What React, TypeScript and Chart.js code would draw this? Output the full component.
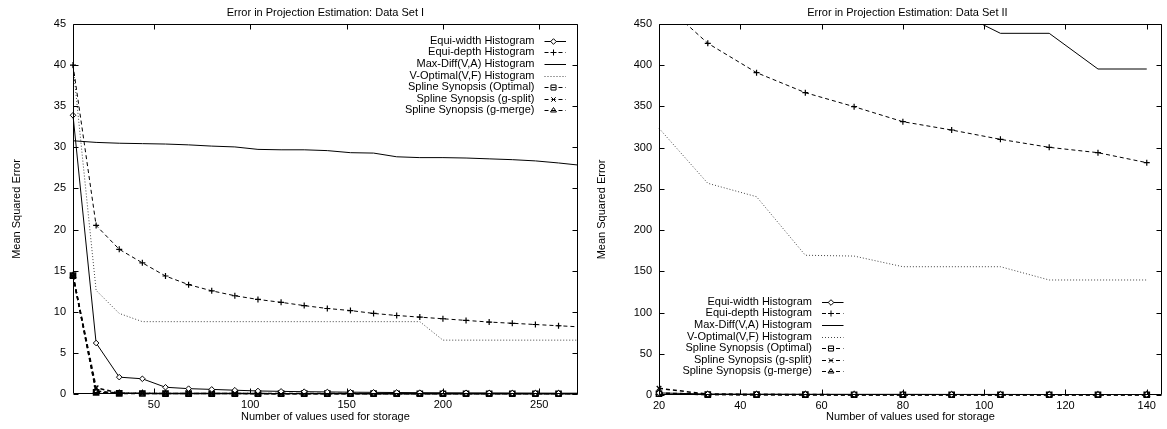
import React, { useEffect, useRef } from "react";
import { Chart, registerables } from "chart.js";

Chart.register(...registerables);

const FONT = "'Liberation Sans', Arial, Helvetica, sans-serif";

// ---------------- data ----------------
const SERIES_NAMES = [
  "Equi-width Histogram",
  "Equi-depth Histogram",
  "Max-Diff(V,A) Histogram",
  "V-Optimal(V,F) Histogram",
  "Spline Synopsis (Optimal)",
  "Spline Synopsis (g-split)",
  "Spline Synopsis (g-merge)",
];

const TITLE_1 = "Error in Projection Estimation: Data Set I";
const TITLE_2 = "Error in Projection Estimation: Data Set II";
const X_TITLE = "Number of values used for storage";
const Y_TITLE = "Mean Squared Error";

// Data Set I
const X1 = [8, 20, 32, 44, 56, 68, 80, 92, 104, 116, 128, 140, 152, 164, 176, 188, 200, 212, 224, 236, 248, 260, 272];
const EQUI_WIDTH_1 = [33.9, 6.2, 2.05, 1.85, 0.82, 0.65, 0.56, 0.46, 0.37, 0.32, 0.28, 0.25, 0.22, 0.2, 0.18, 0.16, 0.15, 0.14, 0.13, 0.12, 0.11, 0.1, 0.1];
const EQUI_DEPTH_1 = [40, 20.5, 17.6, 15.95, 14.35, 13.3, 12.55, 11.95, 11.5, 11.15, 10.75, 10.4, 10.15, 9.8, 9.55, 9.35, 9.15, 8.95, 8.75, 8.6, 8.45, 8.3, 8.15];
const MAX_DIFF_1 = [30.8, 30.6, 30.5, 30.45, 30.4, 30.3, 30.15, 30.05, 29.75, 29.7, 29.7, 29.6, 29.35, 29.3, 28.85, 28.75, 28.75, 28.7, 28.6, 28.5, 28.35, 28.1, 27.8];
const V_OPT_1 = [40, 12.6, 9.8, 8.8, 8.8, 8.8, 8.8, 8.8, 8.8, 8.8, 8.8, 8.8, 8.8, 8.8, 8.8, 8.8, 6.55, 6.55, 6.55, 6.55, 6.55, 6.55, 6.55];
const SPLINE_OPT_1 = [14.4, 0.2, 0.08, 0.06, 0.05, 0.05, 0.05, 0.05, 0.04, 0.04, 0.04, 0.04, 0.04, 0.04, 0.03, 0.03, 0.03, 0.03, 0.03, 0.03, 0.03, 0.03, 0.03];
const G_SPLIT_1 = [14.4, 0.75, 0.12, 0.08, 0.07, 0.06, 0.06, 0.05, 0.05, 0.05, 0.05, 0.05, 0.05, 0.04, 0.04, 0.04, 0.04, 0.04, 0.04, 0.04, 0.04, 0.04, 0.04];
const G_MERGE_1 = [14.4, 0.35, 0.1, 0.07, 0.06, 0.05, 0.05, 0.05, 0.05, 0.04, 0.04, 0.04, 0.04, 0.04, 0.04, 0.03, 0.03, 0.03, 0.03, 0.03, 0.03, 0.03, 0.03];
const X_TICKS_1 = [50, 100, 150, 200, 250];
const Y_TICKS_1 = [0, 5, 10, 15, 20, 25, 30, 35, 40, 45];

// Data Set II
const X2 = [20, 32, 44, 56, 68, 80, 92, 104, 116, 128, 140];
const EQUI_WIDTH_2 = [2.5, 1.2, 1.0, 0.9, 0.8, 0.8, 0.7, 0.7, 0.6, 0.6, 0.6];
const EQUI_DEPTH_2 = [480, 426.6, 391, 366.7, 349.7, 331.5, 321.4, 310.1, 300.4, 293.9, 281.8];
const MAX_DIFF_2 = [780, 680, 600, 545, 505, 485, 468, 438.7, 438.7, 395.4, 395.4];
const V_OPT_2 = [323.5, 256.8, 240.5, 169.5, 168.5, 155.6, 155.6, 155.6, 139.5, 139.5, 139.5];
const SPLINE_OPT_2 = [1.5, 0.5, 0.4, 0.4, 0.3, 0.3, 0.3, 0.3, 0.3, 0.3, 0.3];
const G_SPLIT_2 = [8.1, 1.0, 0.6, 0.5, 0.4, 0.4, 0.4, 0.3, 0.3, 0.3, 0.3];
const G_MERGE_2 = [2.5, 0.6, 0.5, 0.4, 0.4, 0.3, 0.3, 0.3, 0.3, 0.3, 0.3];
const X_TICKS_2 = [20, 40, 60, 80, 100, 120, 140];
const Y_TICKS_2 = [0, 50, 100, 150, 200, 250, 300, 350, 400, 450];

// ---------------- styles ----------------
type St = { dash: number[]; point: string | null; r: number; fill: string; width: number; color: string; pw: number };
const STYLE: St[] = [
  { dash: [], point: "rectRot", r: 2.8, fill: "#ffffff", width: 1, color: "#000", pw: 1 },
  { dash: [4, 3], point: "cross", r: 3, fill: "rgba(0,0,0,0)", width: 1, color: "#000", pw: 1.2 },
  { dash: [], point: null, r: 0, fill: "rgba(0,0,0,0)", width: 1, color: "#000", pw: 1 },
  { dash: [1, 2], point: null, r: 0, fill: "rgba(0,0,0,0)", width: 1, color: "#444", pw: 1 },
  { dash: [4, 3], point: "rect", r: 3.6, fill: "rgba(0,0,0,0)", width: 1.5, color: "#000", pw: 1.6 },
  { dash: [4, 3], point: "crossRot", r: 3.2, fill: "rgba(0,0,0,0)", width: 1.5, color: "#000", pw: 1.3 },
  { dash: [4, 3], point: "triangle", r: 3, fill: "rgba(0,0,0,0)", width: 1.5, color: "#000", pw: 1.3 },
];

type Spec = {
  title: string;
  titleDx: number;
  xs: number[];
  series: number[][];
  xMin: number;
  xMax: number;
  yMax: number;
  xTicks: number[];
  yTicks: number[];
  width: number;
  yAxisWidth: number;
  xAxisHeight: number;
  padRight: number;
  yTitlePad: number;
  legend: "topRight" | "bottomLeft";
};

const SPEC_1: Spec = {
  title: TITLE_1,
  titleDx: 0,
  xs: X1,
  series: [EQUI_WIDTH_1, EQUI_DEPTH_1, MAX_DIFF_1, V_OPT_1, SPLINE_OPT_1, G_SPLIT_1, G_MERGE_1],
  xMin: 8,
  xMax: 270,
  yMax: 45,
  xTicks: X_TICKS_1,
  yTicks: Y_TICKS_1,
  width: 583,
  yAxisWidth: 73,
  xAxisHeight: 35,
  padRight: 3,
  yTitlePad: 10,
  legend: "topRight",
};

const SPEC_2: Spec = {
  title: TITLE_2,
  titleDx: -3,
  xs: X2,
  series: [EQUI_WIDTH_2, EQUI_DEPTH_2, MAX_DIFF_2, V_OPT_2, SPLINE_OPT_2, G_SPLIT_2, G_MERGE_2],
  xMin: 20,
  xMax: 143.7,
  yMax: 450,
  xTicks: X_TICKS_2,
  yTicks: Y_TICKS_2,
  width: 584,
  yAxisWidth: 76,
  xAxisHeight: 34,
  padRight: 2,
  yTitlePad: 12,
  legend: "bottomLeft",
};

const HEIGHT = 429;

function drawMarker(ctx: CanvasRenderingContext2D, st: St, x: number, y: number) {
  if (!st.point) return;
  const r = st.r;
  ctx.save();
  ctx.setLineDash([]);
  ctx.lineWidth = 1;
  ctx.strokeStyle = st.color;
  ctx.fillStyle = st.fill;
  ctx.beginPath();
  if (st.point === "rectRot") {
    ctx.moveTo(x, y - r);
    ctx.lineTo(x + r, y);
    ctx.lineTo(x, y + r);
    ctx.lineTo(x - r, y);
    ctx.closePath();
    ctx.fill();
  } else if (st.point === "cross") {
    ctx.moveTo(x - r, y);
    ctx.lineTo(x + r, y);
    ctx.moveTo(x, y - r);
    ctx.lineTo(x, y + r);
  } else if (st.point === "crossRot") {
    const d = r * Math.SQRT1_2;
    ctx.moveTo(x - d, y - d);
    ctx.lineTo(x + d, y + d);
    ctx.moveTo(x + d, y - d);
    ctx.lineTo(x - d, y + d);
  } else if (st.point === "rect") {
    const s = r * Math.SQRT1_2;
    ctx.rect(x - s, y - s, 2 * s, 2 * s);
  } else if (st.point === "triangle") {
    const h = r * 1.5;
    ctx.moveTo(x - r, y + h / 3);
    ctx.lineTo(x + r, y + h / 3);
    ctx.lineTo(x, y - (2 * h) / 3);
    ctx.closePath();
  }
  ctx.stroke();
  ctx.restore();
}

function makePlugin(spec: Spec) {
  return {
    id: "gnuplotDecor",
    afterDraw(chart: any) {
      const { ctx, chartArea: a, scales } = chart;
      const xs = scales.x;
      const ys = scales.y;
      const L = Math.round(a.left) + 0.5;
      const R = Math.round(a.right) - 0.5;
      const T = Math.round(a.top) + 0.5;
      const B = Math.round(a.bottom) - 0.5;
      ctx.save();
      ctx.setLineDash([]);
      ctx.strokeStyle = "#000";
      ctx.lineWidth = 1;
      // inward ticks on all four sides
      ctx.beginPath();
      for (const v of spec.xTicks) {
        const px = Math.round(xs.getPixelForValue(v)) + 0.5;
        ctx.moveTo(px, B);
        ctx.lineTo(px, B - 5);
        ctx.moveTo(px, T);
        ctx.lineTo(px, T + 5);
      }
      for (const v of spec.yTicks) {
        const py = Math.round(ys.getPixelForValue(v)) + 0.5;
        ctx.moveTo(L, py);
        ctx.lineTo(L + 5, py);
        ctx.moveTo(R, py);
        ctx.lineTo(R - 5, py);
      }
      ctx.stroke();
      // frame
      ctx.beginPath();
      ctx.rect(L, T, R - L, B - T);
      ctx.stroke();

      // title
      ctx.fillStyle = "#000";
      ctx.font = `11px ${FONT}`;
      ctx.textAlign = "center";
      ctx.textBaseline = "middle";
      ctx.fillText(spec.title, (a.left + a.right) / 2 + spec.titleDx, 13);

      // legend
      let textRight: number, y0: number;
      const step = 11.6;
      if (spec.legend === "topRight") {
        textRight = a.right - 43.3;
        y0 = a.top + 16.7;
      } else {
        textRight = a.left + 153;
        y0 = a.bottom - 93.3;
      }
      const s1 = textRight + 10;
      const s2 = textRight + 31.5;
      const mx = textRight + 19;
      ctx.textAlign = "right";
      SERIES_NAMES.forEach((name, i) => {
        const st = STYLE[i];
        const y = y0 + i * step;
        ctx.fillStyle = "#000";
        ctx.fillText(name, textRight, y);
        ctx.save();
        ctx.strokeStyle = st.color;
        ctx.lineWidth = 1;
        ctx.setLineDash(st.dash);
        ctx.beginPath();
        ctx.moveTo(s1, Math.round(y) + 0.5);
        ctx.lineTo(s2, Math.round(y) + 0.5);
        ctx.stroke();
        ctx.restore();
        drawMarker(ctx, st, mx, Math.round(y) + 0.5);
      });
      ctx.restore();
    },
  };
}

function GnuChart({ spec }: { spec: Spec }) {
  const ref = useRef<HTMLCanvasElement | null>(null);
  useEffect(() => {
    if (!ref.current) return;
    const font = { family: FONT, size: 11 };
    const chart = new Chart(ref.current, {
      type: "line",
      data: {
        datasets: spec.series.map((vals, i) => {
          const st = STYLE[i];
          return {
            label: SERIES_NAMES[i],
            data: spec.xs.map((x, j) => ({ x, y: vals[j] })),
            borderColor: st.color,
            backgroundColor: st.fill,
            borderWidth: st.width,
            borderDash: st.dash,
            pointStyle: (st.point || "circle") as any,
            pointRadius: st.point ? st.r : 0,
            pointHoverRadius: st.point ? st.r : 0,
            pointBorderColor: st.color,
            pointBackgroundColor: st.fill,
            pointBorderWidth: st.pw,
            tension: 0,
            fill: false,
            clip: { left: 6, top: 0, right: 0, bottom: 6 } as any,
          };
        }),
      },
      options: {
        responsive: false,
        animation: false,
        events: [],
        layout: { padding: { top: 24, right: spec.padRight, left: 0, bottom: 0 } },
        plugins: {
          legend: { display: false },
          title: { display: false },
          tooltip: { enabled: false },
        },
        scales: {
          x: {
            type: "linear",
            min: spec.xMin,
            max: spec.xMax,
            grid: { display: false, drawTicks: false, tickLength: 0 },
            border: { display: false },
            afterBuildTicks: (s: any) => {
              s.ticks = spec.xTicks.map((v) => ({ value: v }));
            },
            afterFit: (s: any) => {
              s.height = spec.xAxisHeight;
            },
            ticks: { padding: 4, font, color: "#000", maxRotation: 0, autoSkip: false },
            title: { display: true, text: X_TITLE, font, color: "#000", padding: { top: 0, bottom: 5 } },
          },
          y: {
            type: "linear",
            min: 0,
            max: spec.yMax,
            grid: { display: false, drawTicks: false, tickLength: 0 },
            border: { display: false },
            afterBuildTicks: (s: any) => {
              s.ticks = spec.yTicks.map((v) => ({ value: v }));
            },
            afterFit: (s: any) => {
              s.width = spec.yAxisWidth;
            },
            ticks: { padding: 7, font, color: "#000", autoSkip: false },
            title: { display: true, text: Y_TITLE, font, color: "#000", padding: { top: spec.yTitlePad, bottom: 0 } },
          },
        },
      },
      plugins: [makePlugin(spec)],
    } as any);
    return () => chart.destroy();
  }, [spec]);
  return (
    <div style={{ width: spec.width, height: HEIGHT, position: "relative" }}>
      <canvas ref={ref} width={spec.width} height={HEIGHT} style={{ width: spec.width, height: HEIGHT, display: "block" }} />
    </div>
  );
}

export default function App() {
  return (
    <div
      style={{
        position: "absolute",
        left: 0,
        top: 0,
        width: 1167,
        height: HEIGHT,
        display: "flex",
        background: "#fff",
      }}
    >
      <GnuChart spec={SPEC_1} />
      <GnuChart spec={SPEC_2} />
    </div>
  );
}
